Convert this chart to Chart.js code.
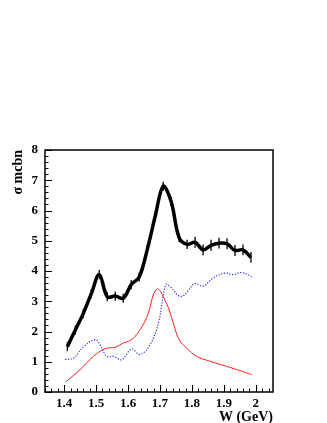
<!DOCTYPE html>
<html>
<head>
<meta charset="utf-8">
<script src="https://cdn.jsdelivr.net/npm/chart.js@4"></script>
<style>
  html, body { margin: 0; padding: 0; background: #fff; }
  #wrap { width: 327px; height: 423px; }
</style>
</head>
<body>
<div id="wrap"><canvas id="myChart" width="327" height="423"></canvas></div>
<script>
// total cross section (black, with errors)
const totalW = [1.41, 1.435, 1.46, 1.485, 1.51, 1.535, 1.56, 1.585, 1.61, 1.635, 1.66, 1.685,
                1.71, 1.735, 1.76, 1.785, 1.81, 1.835, 1.86, 1.885, 1.91, 1.935, 1.96, 1.985];
const totalSigma = [1.5, 2.05, 2.6, 3.25, 3.88, 3.15, 3.17, 3.1, 3.55, 3.8, 4.7, 5.8,
                    6.8, 6.3, 5.1, 4.88, 4.95, 4.7, 4.85, 4.92, 4.9, 4.68, 4.7, 4.45];
const totalErr = [0.15, 0.15, 0.15, 0.15, 0.15, 0.15, 0.15, 0.15, 0.15, 0.15, 0.15, 0.15,
                  0.15, 0.15, 0.15, 0.15, 0.18, 0.18, 0.18, 0.18, 0.18, 0.18, 0.18, 0.18];

// blue dotted curve
const blueW = [1.403, 1.43, 1.46, 1.497, 1.512, 1.533, 1.554, 1.58, 1.612, 1.637, 1.669,
               1.695, 1.718, 1.73, 1.767, 1.809, 1.835, 1.867, 1.903, 1.929, 1.955, 1.987];
const blueSigma = [1.07, 1.13, 1.49, 1.73, 1.57, 1.18, 1.18, 1.07, 1.42, 1.24, 1.57,
                   2.28, 3.55, 3.5, 3.16, 3.58, 3.5, 3.77, 3.93, 3.88, 3.95, 3.82];

// red curve
const redW = [1.406, 1.45, 1.492, 1.528, 1.56, 1.585, 1.606, 1.627, 1.658, 1.69, 1.72,
              1.74, 1.76, 1.783, 1.815, 1.856, 1.908, 1.95, 1.987];
const redSigma = [0.34, 0.74, 1.18, 1.43, 1.48, 1.62, 1.7, 1.9, 2.45, 3.4, 2.94,
                  2.34, 1.73, 1.46, 1.18, 1.02, 0.85, 0.71, 0.58];

const toPts = (xs, ys) => xs.map((x, i) => ({ x: x, y: ys[i] }));

const serif = "'Liberation Serif', 'DejaVu Serif', serif";
const tickFont = { family: serif, size: 13, weight: 'bold' };

// frame, inward ticks and error bars
const rootStyle = {
  id: 'rootStyle',
  afterDatasetsDraw(chart) {
    const ctx = chart.ctx;
    const a = chart.chartArea;
    const xs = chart.scales.x, ys = chart.scales.y;
    ctx.save();
    // error bars
    ctx.strokeStyle = '#000';
    ctx.lineWidth = 1.3;
    totalW.forEach((w, i) => {
      const px = xs.getPixelForValue(w);
      ctx.beginPath();
      ctx.moveTo(px, ys.getPixelForValue(totalSigma[i] - totalErr[i]));
      ctx.lineTo(px, ys.getPixelForValue(totalSigma[i] + totalErr[i]));
      ctx.stroke();
    });
    // frame
    ctx.lineWidth = 1.5;
    ctx.strokeRect(a.left, a.top, a.right - a.left, a.bottom - a.top);
    ctx.lineWidth = 1;
    // x ticks
    for (let k = 0; k <= 35; k++) {
      const v = 1.34 + k * 0.02;
      if (v > xs.max) break;
      const major = Math.abs(Math.round(v * 10) - v * 10) < 1e-6;
      const px = Math.round(xs.getPixelForValue(v)) + 0.5;
      ctx.beginPath();
      ctx.moveTo(px, a.bottom);
      ctx.lineTo(px, a.bottom - (major ? 7 : 3.5));
      ctx.stroke();
    }
    // y ticks
    for (let k = 0; k <= 40; k++) {
      const v = k * 0.2;
      const major = k % 5 === 0;
      const py = Math.round(ys.getPixelForValue(v)) + 0.5;
      ctx.beginPath();
      ctx.moveTo(a.left, py);
      ctx.lineTo(a.left + (major ? 7 : 3.5), py);
      ctx.stroke();
    }
    ctx.restore();
  }
};

new Chart(document.getElementById('myChart'), {
  type: 'scatter',
  data: {
    datasets: [
      {
        label: 'red',
        data: toPts(redW, redSigma),
        showLine: true,
        borderColor: '#ff2020',
        borderWidth: 1,
        pointRadius: 0,
        tension: 0.4
      },
      {
        label: 'blue',
        data: toPts(blueW, blueSigma),
        showLine: true,
        borderColor: '#2a2aff',
        borderWidth: 1.2,
        borderDash: [1.2, 1.6],
        pointRadius: 0,
        tension: 0.4
      },
      {
        label: 'total',
        data: toPts(totalW, totalSigma),
        showLine: true,
        borderColor: '#000',
        borderWidth: 3.5,
        pointRadius: 0,
        tension: 0.35
      }
    ]
  },
  options: {
    responsive: false,
    animation: false,
    layout: { padding: { top: 150, right: 54, left: 0, bottom: 0 } },
    plugins: { legend: { display: false }, tooltip: { enabled: false } },
    scales: {
      x: {
        type: 'linear',
        min: 1.34,
        max: 2.054,
        afterBuildTicks: (s) => {
          s.ticks = [1.4, 1.5, 1.6, 1.7, 1.8, 1.9, 2.0].map(v => ({ value: v }));
        },
        afterFit: (s) => { s.height = 31; },
        grid: { display: false, drawTicks: false },
        border: { display: false },
        ticks: {
          color: '#000',
          font: tickFont,
          padding: 4,
          maxRotation: 0,
          callback: (v) => (v === 2 ? '2' : v.toFixed(1))
        },
        title: {
          display: true,
          text: 'W (GeV)',
          align: 'end',
          color: '#000',
          font: { family: serif, size: 14, weight: 'bold' },
          padding: { top: 0, bottom: -3 }
        }
      },
      y: {
        min: 0,
        max: 8,
        afterFit: (s) => { s.width = 45; },
        grid: { display: false, drawTicks: false },
        border: { display: false },
        ticks: {
          stepSize: 1,
          color: '#000',
          font: tickFont,
          padding: 7
        },
        title: {
          display: true,
          text: 'σ mcbn',
          align: 'end',
          color: '#000',
          font: { family: serif, size: 14, weight: 'bold' },
          padding: { top: 10, bottom: 0 }
        }
      }
    }
  },
  plugins: [rootStyle]
});
</script>
</body>
</html>
